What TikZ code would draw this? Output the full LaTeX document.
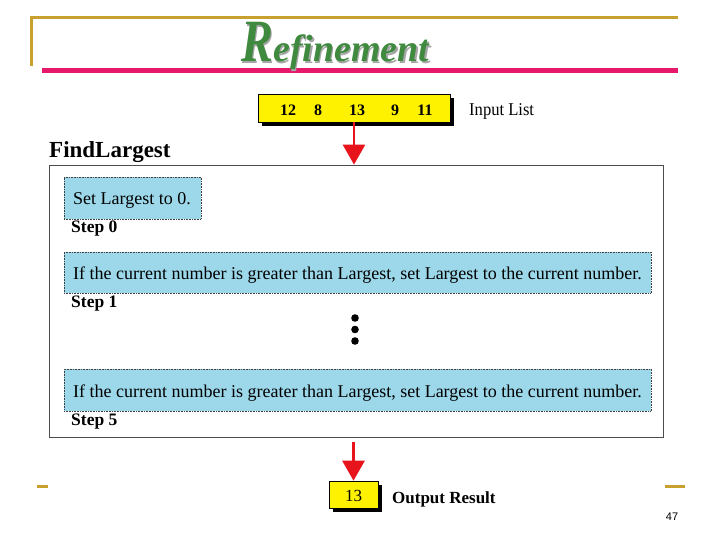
\documentclass[tikz,border=0pt]{standalone}
\usepackage{graphicx}
\usepackage{fontspec}
\setmainfont{Liberation Serif}
\newfontfamily\sansf{Liberation Sans}
\newfontfamily\condserif[FakeStretch=0.92]{Liberation Serif}
\usetikzlibrary{arrows.meta,shadows}
\definecolor{goldc}{HTML}{C8A02D}
\definecolor{pinkc}{HTML}{E6186C}
\definecolor{greenc}{HTML}{3F8A3F}
\definecolor{bluec}{HTML}{9CD8EA}
\definecolor{redc}{HTML}{E8141B}
\tikzset{
  ybox/.style={fill=yellow, draw=black, line width=0.6pt, inner sep=0pt,
    drop shadow={shadow xshift=4pt, shadow yshift=-4pt, opacity=1, fill=black}},
  bbox/.style={fill=bluec, draw=black!75, densely dotted, line width=0.6pt, inner sep=0pt},
  bigbox/.style={draw=black!70, line width=0.8pt, inner sep=0pt},
  num/.style={font=\fontsize{16}{16}\selectfont\bfseries, inner sep=0pt, anchor=base},
  body/.style={font=\fontsize{18}{18}\selectfont, inner sep=0pt, anchor=base west},
  steplbl/.style={font=\fontsize{17.5}{17.5}\selectfont\bfseries, inner sep=0pt, anchor=base west},
  redarrow/.style={draw=redc, line width=2.8pt, -{Triangle[width=22pt,length=20pt]}},
  goldline/.style={draw=goldc, line width=3pt},
}
\begin{document}
\begin{tikzpicture}[x=1pt,y=-1pt]
\useasboundingbox (0,0) rectangle (720,540);
\fill[white] (0,0) rectangle (720,540);
% decorations
\draw[goldline] (31,66) -- (31,18) -- (678,18);
\draw[draw=pinkc, line width=5pt] (42,71) -- (678,71);
\draw[goldline] (37,486) -- (48,486);
\draw[goldline] (665,486) -- (685,486);
% title
\node[anchor=base west, inner sep=0pt, text=black!35] (titleshadow) at (242.5,63.5)
  {\bfseries\itshape\scalebox{0.8}[1]{\fontsize{60}{60}\selectfont R}\fontsize{38}{38}\selectfont efinement};
\node[anchor=base west, inner sep=0pt, text=greenc] (title) at (241,62)
  {\bfseries\itshape\scalebox{0.8}[1]{\fontsize{60}{60}\selectfont R}\fontsize{38}{38}\selectfont efinement};
% input list
\node[ybox, minimum width=192pt, minimum height=28pt] (inbox) at (354,108) {};
\node[num] (n1) at (288,116) {12};
\node[num] (n2) at (318,116) {8};
\node[num] (n3) at (357,116) {13};
\node[num] (n4) at (395,116) {9};
\node[num] (n5) at (425,116) {11};
\node[anchor=base west, inner sep=0pt, font=\condserif\fontsize{18}{18}\selectfont] (inlabel) at (469,116) {Input List};
% FindLargest
\node[anchor=base west, inner sep=0pt, font=\fontsize{23}{23}\selectfont\bfseries] (fl) at (49,158) {FindLargest};
\node[bigbox, minimum width=614pt, minimum height=272pt] (big) at (356,301) {};
% steps
\node[bbox, minimum width=137pt, minimum height=42pt] (b1) at (132.5,198) {};
\node[body] (t1) at (73,205) {Set Largest to 0.};
\node[steplbl] (s0) at (71,233) {Step 0};
\node[bbox, minimum width=587pt, minimum height=41pt] (b2) at (357.5,272.5) {};
\node[body] (t2) at (73,279) {If the current number is greater than Largest, set Largest to the current number.};
\node[steplbl] (s1) at (71,307) {Step 1};
\fill (355,318) circle (3.8) coordinate (d1);
\fill (355,329.5) circle (3.8) coordinate (d2);
\fill (355,341) circle (3.8) coordinate (d3);
\node[bbox, minimum width=587pt, minimum height=42pt] (b3) at (357.5,390) {};
\node[body] (t3) at (73,397) {If the current number is greater than Largest, set Largest to the current number.};
\node[steplbl] (s5) at (71,425) {Step 5};
% output
\node[ybox, minimum width=49pt, minimum height=27pt] (outbox) at (353.5,494.5) {};
\node[inner sep=0pt, font=\fontsize{17}{17}\selectfont, anchor=base] (outnum) at (353.5,501) {13};
\node[anchor=base west, inner sep=0pt, font=\fontsize{17}{17}\selectfont\bfseries] (outlabel) at (392,503) {Output Result};
\node[inner sep=0pt, font=\sansf\fontsize{11}{11}\selectfont] (pg) at (672,517) {47};
% arrows
\draw[redarrow] (inbox.south) -- (inbox.south |- big.north);
\draw[redarrow, shorten <=5pt] (big.south -| outbox.north) -- (outbox.north);
\end{tikzpicture}
\end{document}
